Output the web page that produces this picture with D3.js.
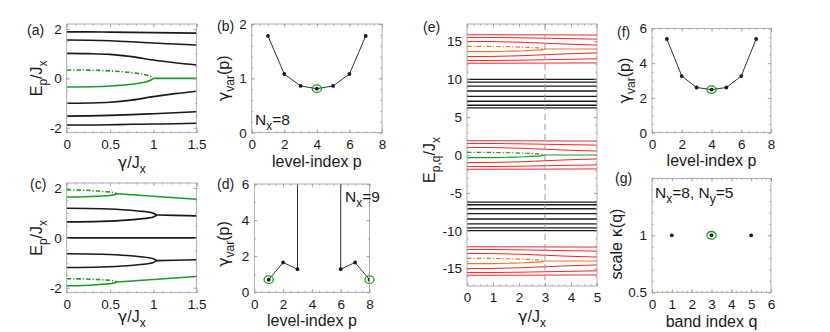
<!DOCTYPE html>
<html>
<head>
<meta charset="utf-8">
<script src="https://cdn.jsdelivr.net/npm/d3@7/dist/d3.min.js"></script>
<style>
    body { margin: 0; background: #fff; }
    svg text { font-family: "Liberation Sans", Arial, Helvetica, sans-serif; fill: #1a1a1a; }
    svg tspan.greek { font-family: "DejaVu Sans", sans-serif; }
</style>
</head>
<body>
<svg id="figure" width="830" height="332"></svg>
<script>
/*************************************************
    Data:
 *************************************************/
// (a) spectrum E_p(gamma), Nx = 8
var gammaA = [0, 0.25, 0.5, 0.75, 1.0, 1.25, 1.5];
var levelsA = [
    [1.88, 1.88, 1.87, 1.86, 1.85, 1.84, 1.83],
    [1.55, 1.54, 1.52, 1.48, 1.43, 1.39, 1.35],
    [1.01, 1.00, 0.97, 0.88, 0.74, 0.63, 0.54],
    [-1.01, -1.00, -0.97, -0.88, -0.74, -0.62, -0.52],
    [-1.53, -1.52, -1.50, -1.47, -1.43, -1.39, -1.35],
    [-1.89, -1.89, -1.88, -1.86, -1.85, -1.84, -1.82]
];
var gammaEpA = [0, 0.3, 0.55, 0.75, 0.88, 0.96, 1.0];
var epUpperA = [0.34, 0.33, 0.29, 0.23, 0.16, 0.09, 0];
var epLowerA = [-0.35, -0.34, -0.30, -0.24, -0.17, -0.09, 0];
var gammaTailA = [1.0, 1.5];
var epTailA = [0, 0];

// (c) spectrum E_p(gamma), Nx = 9
var gammaFlatC = [0, 1.5];
var zeroC = [0, 0];
var gammaOuterC = [0, 0.2, 0.35, 0.45, 0.52, 0.56, 0.58];
var outerUpperC = [1.92, 1.91, 1.88, 1.85, 1.83, 1.80, 1.77];
var outerLowerC = [1.64, 1.65, 1.67, 1.69, 1.71, 1.74, 1.77];
var outerNegUpperC = [-1.64, -1.65, -1.67, -1.69, -1.71, -1.74, -1.77];
var outerNegLowerC = [-1.92, -1.91, -1.88, -1.85, -1.83, -1.80, -1.77];
var gammaOuterTailC = [0.58, 0.75, 1.0, 1.25, 1.5];
var outerTailC = [1.77, 1.73, 1.67, 1.61, 1.55];
var outerNegTailC = [-1.77, -1.73, -1.67, -1.61, -1.55];
var gammaInnerC = [0, 0.4, 0.7, 0.85, 0.95, 1.0, 1.04];
var innerUpperC = [1.19, 1.17, 1.12, 1.07, 1.03, 0.99, 0.915];
var innerLowerC = [0.64, 0.66, 0.71, 0.76, 0.80, 0.84, 0.915];
var innerNegUpperC = [-0.64, -0.66, -0.71, -0.76, -0.80, -0.84, -0.915];
var innerNegLowerC = [-1.19, -1.17, -1.12, -1.07, -1.03, -0.99, -0.915];
var gammaInnerTailC = [1.04, 1.25, 1.5];
var innerTailC = [0.915, 0.90, 0.88];
var innerNegTailC = [-0.915, -0.90, -0.88];

// (b) critical gamma per level, Nx = 8
var levelB = [1, 2, 3, 4, 5, 6, 7];
var gammaVarB = [1.78, 1.08, 0.86, 0.81, 0.86, 1.08, 1.78];
var circledB = [4];

// (d) critical gamma per level, Nx = 9 (levels 4, 5 run off the top)
var levelD = [1, 2, 3, 4, 5, 6, 7, 8];
var gammaVarD = [0.70, 1.65, 1.28, Infinity, Infinity, 1.28, 1.65, 0.70];
var circledD = [1, 8];

// (e) 2D spectrum E_{p,q}(gamma), Nx = 8, Ny = 5
var bandCentresE = [14.0, 8.1, 0, -8.1, -14.0];
var bandKindE = ["outer", "passive", "centre", "passive", "outer"];
var gammaE = [0, 1, 2, 3, 4, 5];
var levelsE = [
    [1.88, 1.88, 1.87, 1.86, 1.85, 1.84],
    [1.53, 1.52, 1.48, 1.42, 1.36, 1.30],
    [1.00, 0.98, 0.90, 0.76, 0.62, 0.52],
    [-1.00, -0.98, -0.90, -0.76, -0.62, -0.52],
    [-1.53, -1.52, -1.48, -1.42, -1.36, -1.30],
    [-1.88, -1.88, -1.87, -1.86, -1.85, -1.84]
];
var gammaEpE = [0, 0.9, 1.65, 2.25, 2.65, 2.9, 3.0];
var epUpperE = [0.35, 0.34, 0.29, 0.23, 0.16, 0.09, 0];
var epLowerE = [-0.35, -0.34, -0.29, -0.23, -0.16, -0.09, 0];
var gammaTailE = [3, 5];
var epTailE = [0, 0];
var gammaFlatE = [0, 5];
var passiveLevelsE = [1.88, 1.53, 1.0, 0.35, -0.35, -1.0, -1.53, -1.88];
var critGammaE = [3];

// (f) critical gamma per level, 2D lattice
var levelF = [1, 2, 3, 4, 5, 6, 7];
var gammaVarF = [5.39, 3.26, 2.60, 2.48, 2.60, 3.26, 5.39];
var circledF = [4];

// (g) scale factor per band
var bandQ = [1, 3, 5];
var kappaG = [1, 1, 1];
var circledG = [3];

// tick values
var ticksGammaAC = [0, 0.5, 1, 1.5];
var ticksEnergyAC = [-2, 0, 2];
var ticksLevel = [0, 2, 4, 6, 8];
var ticksGammaVarB = [0, 1, 2];
var ticksGammaVarDF = [0, 2, 4, 6];
var ticksGammaE = [0, 1, 2, 3, 4, 5];
var ticksEnergyE = [-15, -10, -5, 0, 5, 10, 15];
var ticksBandG = [0, 1, 2, 3, 4, 5, 6];
var ticksKappaG = [0.5, 1];

/*************************************************
    Styles:
 *************************************************/
var AXIS_GREY = "#9b9b9b";
var INK = "#1a1a1a";
var GREEN = "#1f9a26";
var RED = "#f2262a";
var ORANGE = "#e9782e";
var DASH_DOT = "4.5,2,1.2,2";
var LABEL_SIZE = 16;
var SUB_SIZE = 12;

var svg = d3.select("#figure");

/*************************************************
    Constructors:
 *************************************************/
function Panel(box, xDomain, yDomain) {
    this.box = box;
    this.x = d3.scaleLinear().domain(xDomain).range([box.left, box.right]);
    this.y = d3.scaleLinear().domain(yDomain).range([box.bottom, box.top]);
    this.g = svg.append("g");
    Panel.count = (Panel.count || 0) + 1;
    var id = "clip-" + Panel.count;
    this.g.append("clipPath").attr("id", id).append("rect")
        .attr("x", box.left).attr("y", box.top)
        .attr("width", box.right - box.left)
        .attr("height", box.bottom - box.top);
    this.plot = this.g.append("g").attr("clip-path", "url(#" + id + ")");
}

/*************************************************
    Static functions:
 *************************************************/
function minorTicks(scale, step) {
    var dom = scale.domain();
    var lo = Math.ceil(dom[0] / step - 1e-9),
        hi = Math.floor(dom[1] / step + 1e-9);
    return d3.range(lo, hi + 1).map(function(i) { return +(i * step).toFixed(6); });
}

// parts: [[text, isSubscript, isGreek], ...]
function richText(text, parts) {
    var prevSub = false;
    parts.forEach(function(p) {
        var t = text.append("tspan").text(p[0]);
        var dy = (p[1] ? 4.5 : 0) - (prevSub ? 4.5 : 0);
        if (dy) t.attr("dy", dy);
        if (p[1]) t.attr("font-size", SUB_SIZE);
        if (p[2]) t.attr("class", "greek");
        prevSub = p[1];
    });
    return text;
}

/*************************************************
    Methods:
 *************************************************/
Panel.prototype.frame = function(xTicks, yTicks, xStep, yStep, xPad, yPad) {
    var b = this.box, x = this.x, y = this.y;
    var layer = this.g.append("g");
    var fmt = function(d) { return String(d); };
    var sides = [
        [d3.axisBottom(x), "translate(0," + b.bottom + ")", xTicks, minorTicks(x, xStep), xPad],
        [d3.axisTop(x), "translate(0," + b.top + ")", xTicks, minorTicks(x, xStep), null],
        [d3.axisLeft(y), "translate(" + b.left + ",0)", yTicks, minorTicks(y, yStep), yPad],
        [d3.axisRight(y), "translate(" + b.right + ",0)", yTicks, minorTicks(y, yStep), null]
    ];
    sides.forEach(function(s) {
        var axis = s[0];
        layer.append("g").attr("transform", s[1])
            .call(axis.tickValues(s[3]).tickSize(-1.6).tickFormat(""));
        layer.append("g").attr("transform", s[1])
            .call(axis.tickValues(s[2]).tickSize(-3.2)
                .tickPadding(s[4] == null ? 3 : s[4])
                .tickFormat(s[4] == null ? "" : fmt));
    });
    layer.selectAll(".domain").remove();
    layer.selectAll(".tick line").attr("stroke", AXIS_GREY).attr("stroke-width", 0.8);
    layer.selectAll("g").attr("font-family", null).attr("font-size", null);
    layer.selectAll(".tick text").attr("fill", INK).attr("font-size", 13.5);
    layer.append("rect")
        .attr("x", b.left).attr("y", b.top)
        .attr("width", b.right - b.left).attr("height", b.bottom - b.top)
        .attr("fill", "none").attr("stroke", AXIS_GREY).attr("stroke-width", 0.8);
};

Panel.prototype.curve = function(xs, ys, style) {
    var x = this.x, y = this.y;
    var line = d3.line()
        .x(function(d) { return x(d[0]); })
        .y(function(d) { return y(d[1]); })
        .curve(d3.curveMonotoneX);
    this.plot.append("path").datum(d3.zip(xs, ys))
        .attr("d", line)
        .attr("fill", "none")
        .attr("stroke", style.stroke)
        .attr("stroke-width", style.width || 1.6)
        .attr("stroke-dasharray", style.dash || null);
};

// level-index series: neighbours joined, infinite values shoot off the top
Panel.prototype.levelSeries = function(ps, vals, circled, joined) {
    var x = this.x, y = this.y, top = y.domain()[1];
    var segs = [];
    if (joined) {
        for (var i = 0; i < ps.length - 1; i++) {
            var a = vals[i], c = vals[i + 1];
            if (isFinite(a) && isFinite(c)) segs.push([[ps[i], a], [ps[i + 1], c]]);
            else if (isFinite(a)) segs.push([[ps[i], a], [ps[i], top]]);
            else if (isFinite(c)) segs.push([[ps[i + 1], top], [ps[i + 1], c]]);
        }
    }
    this.plot.selectAll(null).data(segs).enter().append("line")
        .attr("x1", function(d) { return x(d[0][0]); })
        .attr("y1", function(d) { return y(d[0][1]); })
        .attr("x2", function(d) { return x(d[1][0]); })
        .attr("y2", function(d) { return y(d[1][1]); })
        .attr("stroke", INK).attr("stroke-width", 0.9);
    var pts = d3.zip(ps, vals).filter(function(d) { return isFinite(d[1]); });
    this.plot.selectAll(null).data(pts).enter().append("circle")
        .attr("cx", function(d) { return x(d[0]); })
        .attr("cy", function(d) { return y(d[1]); })
        .attr("r", 1.9).attr("fill", INK);
    var rings = pts.filter(function(d) { return circled.indexOf(d[0]) >= 0; });
    this.g.selectAll(null).data(rings).enter().append("ellipse")
        .attr("cx", function(d) { return x(d[0]); })
        .attr("cy", function(d) { return y(d[1]); })
        .attr("rx", 4.6).attr("ry", 3.8)
        .attr("fill", "none").attr("stroke", GREEN).attr("stroke-width", 1.3);
};

Panel.prototype.letter = function(txt, px, baseline) {
    this.g.append("text").attr("x", px).attr("y", baseline)
        .attr("font-size", 14).text(txt);
};

Panel.prototype.note = function(parts, px, baseline) {
    richText(this.g.append("text").attr("x", px).attr("y", baseline)
        .attr("font-size", 15.5), parts);
};

Panel.prototype.xLabel = function(parts, baseline) {
    var b = this.box;
    richText(this.g.append("text")
        .attr("x", (b.left + b.right) / 2).attr("y", baseline)
        .attr("text-anchor", "middle").attr("font-size", LABEL_SIZE), parts);
};

Panel.prototype.yLabel = function(parts, baselineX, centreY) {
    var b = this.box;
    var cy = centreY == null ? (b.top + b.bottom) / 2 : centreY;
    richText(this.g.append("text")
        .attr("transform", "translate(" + baselineX + "," + cy + ") rotate(-90)")
        .attr("text-anchor", "middle").attr("font-size", LABEL_SIZE), parts);
};

/*************************************************
    Labels:
 *************************************************/
var gammaLabel = [["\u03b3", false, true], ["/J", false], ["x", true]];
var energyLabel = [["E", false], ["p", true], ["/J", false], ["x", true]];
var energyPqLabel = [["E", false], ["p,q", true], ["/J", false], ["x", true]];
var gammaVarLabel = [["\u03b3", false, true], ["var", true], ["(p)", false]];
var levelLabel = [["level-index p", false]];
var kappaLabel = [["scale ", false], ["\u03ba", false, true], ["(q)", false]];

/*************************************************
    (a)
 *************************************************/
var pa = new Panel({left: 66.7, right: 196.7, top: 24, bottom: 132.7}, [0, 1.5], [-2.2, 2.2]);
levelsA.forEach(function(row) { pa.curve(gammaA, row, {stroke: INK}); });
pa.curve(gammaEpA, epUpperA, {stroke: GREEN, dash: DASH_DOT});
pa.curve(gammaEpA, epLowerA, {stroke: GREEN});
pa.curve(gammaTailA, epTailA, {stroke: GREEN});
pa.frame(ticksGammaAC, ticksEnergyAC, 0.1, 0.5, 7, 5);
pa.letter("(a)", 27, 35);
pa.xLabel(gammaLabel, 168);
pa.yLabel(energyLabel, 42);

/*************************************************
    (c)
 *************************************************/
var pc = new Panel({left: 66.7, right: 196.7, top: 183, bottom: 292.7}, [0, 1.5], [-2.2, 2.2]);
pc.curve(gammaFlatC, zeroC, {stroke: INK});
pc.curve(gammaInnerC, innerUpperC, {stroke: INK});
pc.curve(gammaInnerC, innerLowerC, {stroke: INK});
pc.curve(gammaInnerTailC, innerTailC, {stroke: INK});
pc.curve(gammaInnerC, innerNegUpperC, {stroke: INK});
pc.curve(gammaInnerC, innerNegLowerC, {stroke: INK});
pc.curve(gammaInnerTailC, innerNegTailC, {stroke: INK});
pc.curve(gammaOuterC, outerUpperC, {stroke: GREEN, dash: DASH_DOT});
pc.curve(gammaOuterC, outerLowerC, {stroke: GREEN});
pc.curve(gammaOuterTailC, outerTailC, {stroke: GREEN});
pc.curve(gammaOuterC, outerNegUpperC, {stroke: GREEN, dash: DASH_DOT});
pc.curve(gammaOuterC, outerNegLowerC, {stroke: GREEN});
pc.curve(gammaOuterTailC, outerNegTailC, {stroke: GREEN});
pc.frame(ticksGammaAC, ticksEnergyAC, 0.1, 0.5, 7, 5);
pc.letter("(c)", 30, 189);
pc.xLabel(gammaLabel, 322);
pc.yLabel(energyLabel, 42);

/*************************************************
    (b)
 *************************************************/
var pb = new Panel({left: 251.7, right: 382, top: 24, bottom: 132.7}, [0, 8], [0, 2]);
pb.levelSeries(levelB, gammaVarB, circledB, true);
pb.frame(ticksLevel, ticksGammaVarB, 0.5, 0.2, 7, 5);
pb.letter("(b)", 217, 31);
pb.note([["N", false], ["x", true], ["=8", false]], 255, 125);
pb.xLabel(levelLabel, 167);
pb.yLabel(gammaVarLabel, 229);

/*************************************************
    (d)
 *************************************************/
var pd = new Panel({left: 254.3, right: 369.5, top: 184, bottom: 292.3}, [0, 8], [0, 6]);
pd.levelSeries(levelD, gammaVarD, circledD, true);
pd.frame(ticksLevel, ticksGammaVarDF, 0.5, 1, 7, 5);
pd.letter("(d)", 217, 189);
pd.note([["N", false], ["x", true], ["=9", false]], 345, 202);
pd.xLabel(levelLabel, 326);
pd.yLabel(gammaVarLabel, 229, 244);

/*************************************************
    (e)
 *************************************************/
var pe = new Panel({left: 467, right: 597, top: 24, bottom: 286}, [0, 5], [-17.3, 17.3]);
bandCentresE.forEach(function(c, i) {
    var shift = function(v) { return c + v; };
    if (bandKindE[i] === "passive") {
        passiveLevelsE.forEach(function(l) {
            pe.curve(gammaFlatE, gammaFlatE.map(function() { return c + l; }), {stroke: INK, width: 1.3});
        });
        return;
    }
    var epColour = bandKindE[i] === "centre" ? GREEN : ORANGE;
    levelsE.forEach(function(row) {
        pe.curve(gammaE, row.map(shift), {stroke: RED, width: 1});
    });
    pe.curve(gammaEpE, epUpperE.map(shift), {stroke: epColour, width: 1.2, dash: DASH_DOT});
    pe.curve(gammaEpE, epLowerE.map(shift), {stroke: epColour, width: 1.2});
    pe.curve(gammaTailE, epTailE.map(shift), {stroke: epColour, width: 1.2});
});
pe.plot.selectAll(null).data(critGammaE).enter().append("line")
    .attr("x1", function(d) { return pe.x(d); })
    .attr("x2", function(d) { return pe.x(d); })
    .attr("y1", pe.box.top).attr("y2", pe.box.bottom)
    .attr("stroke", "#9a9a9a").attr("stroke-width", 1)
    .attr("stroke-dasharray", "6,4");
pe.frame(ticksGammaE, ticksEnergyE, 0.25, 1, 6.5, 5);
pe.letter("(e)", 423, 32);
pe.xLabel(gammaLabel, 322);
pe.yLabel(energyPqLabel, 435, 160);

/*************************************************
    (f)
 *************************************************/
var pf = new Panel({left: 652, right: 771, top: 28.4, bottom: 132.7}, [0, 8], [0, 6]);
pf.levelSeries(levelF, gammaVarF, circledF, true);
pf.frame(ticksLevel, ticksGammaVarDF, 0.5, 0.5, 7, 5);
pf.letter("(f)", 617, 37);
pf.xLabel(levelLabel, 166);
pf.yLabel(gammaVarLabel, 630);

/*************************************************
    (g)
 *************************************************/
var pg = new Panel({left: 652, right: 771, top: 178.3, bottom: 292.3}, [0, 6], [0.5, 1.5]);
pg.levelSeries(bandQ, kappaG, circledG, false);
pg.frame(ticksBandG, ticksKappaG, 0.25, 0.1, 7, 5);
pg.letter("(g)", 615, 183);
pg.note([["N", false], ["x", true], ["=8, N", false], ["y", true], ["=5", false]], 655, 198);
pg.xLabel([["band index q", false]], 327);
pg.yLabel(kappaLabel, 622, 244);
</script>
</body>
</html>
